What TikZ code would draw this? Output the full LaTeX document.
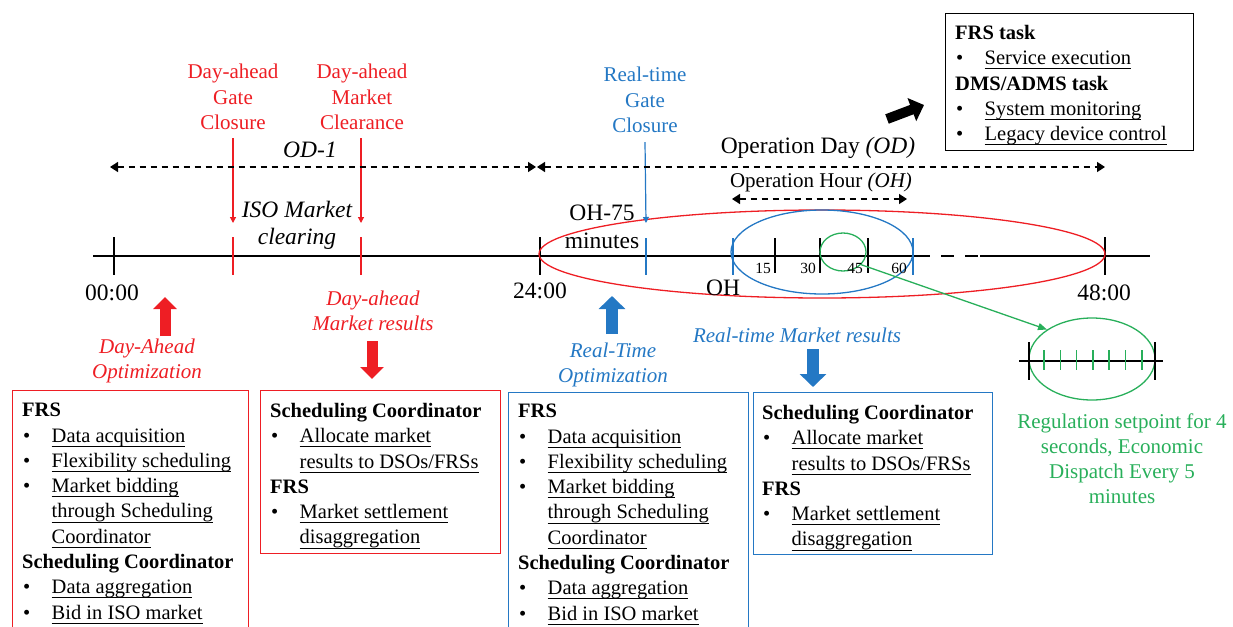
\documentclass[tikz,border=0pt]{standalone}
\usepackage{fontspec}
\setmainfont{Liberation Serif}
\usetikzlibrary{arrows.meta,positioning,shapes.geometric}
\definecolor{dared}{RGB}{238,30,36}
\definecolor{rtblue}{RGB}{36,120,196}
\definecolor{regreen}{RGB}{40,175,90}

\newcommand{\uln}[1]{\setbox0\hbox{#1}\rlap{\rule[-4.5pt]{\wd0}{0.9pt}}\box0}
\newcommand{\bitem}[1]{\makebox[29.5pt][l]{\hspace{1pt}\textbullet}\uln{#1}}
\newcommand{\bcont}[1]{\hspace*{29.5pt}\uln{#1}}

\tikzset{
  lbl/.style={font=\fontsize{21}{25.5}\selectfont, align=center, inner sep=0},
  tlbl/.style={font=\fontsize{23.5}{27.5}\selectfont, align=center, inner sep=0},
  minlbl/.style={font=\fontsize{15.5}{18}\selectfont, inner sep=0, anchor=base},
  boxtxt/.style={font=\fontsize{20.5}{25.3}\selectfont, align=left, inner sep=0},
  taskframe/.style={line width=1.3pt, inner sep=0, anchor=north west},
  ring/.style={ellipse, line width=1.3pt, inner sep=0},
  tick/.style={line width=2.2pt},
  ctick/.style={line width=1.6pt},
  timedash/.style={line width=1.5pt, dash pattern=on 6pt off 5pt},
  thinarrow/.style={line width=1.2pt, -{Triangle[length=6pt,width=6pt]}},
  fatarrow/.style={line width=11pt, -{Triangle[length=12pt,width=23pt]}}
}

\begin{document}
\begin{tikzpicture}[x=1pt,y=-1pt]
\useasboundingbox (0,0) rectangle (1233,626);

\coordinate (tl0) at (93,256);
\coordinate (tl1) at (917,256);
\coordinate (tl2) at (980,256);
\coordinate (tl3) at (1150,256);

\draw[line width=2pt] (tl0) -- (tl1);
\draw[line width=2pt, dash pattern=on 13pt off 11pt] (tl1) -- (tl2);
\draw[line width=2pt] (tl2) -- (tl3);

\foreach \x in {114,540,1105} \draw[tick] (\x,237) -- (\x,275);
\foreach \x in {775,820,868} \draw[tick] (\x,238) -- (\x,273);
\foreach \x in {233,361} \draw[ctick, dared] (\x,237) -- (\x,275);
\foreach \x in {646,733,913} \draw[ctick, rtblue] (\x,238) -- (\x,275);

\node[ring, draw=dared, minimum width=566, minimum height=88] (odring) at (822,254) {};
\node[ring, draw=rtblue, minimum width=182, minimum height=84] (ohring) at (822,252) {};
\node[ring, draw=regreen, minimum width=46, minimum height=38] (regring) at (843,252) {};

\node[tlbl, anchor=base] (t0) at (112,300) {00:00};
\node[tlbl, anchor=base] (t24) at (540,298) {24:00};
\node[tlbl, anchor=base] (t48) at (1104,300) {48:00};
\node[tlbl, anchor=base] (ohname) at (723,295) {OH};
\node[minlbl] (m15) at (763,273) {15};
\node[minlbl] (m30) at (808,273) {30};
\node[minlbl] (m45) at (855,273) {45};
\node[minlbl] (m60) at (899,273) {60};

% gate closures
\node[lbl, dared, anchor=north] (gcda) at (233,64) {Day-ahead\\Gate\\Closure};
\node[lbl, dared, anchor=north] (mcda) at (362,64) {Day-ahead\\Market\\Clearance};
\node[lbl, rtblue, anchor=north] (gcrt) at (645,67) {Real-time\\Gate\\Closure};
\coordinate (gcdaend) at (233,223);
\coordinate (mcdaend) at (361,223);
\coordinate (gcrtend) at (646,223);
\draw[thinarrow, dared] ([yshift=-8pt]gcda.south) -- (gcdaend);
\draw[thinarrow, dared] ([xshift=-1pt,yshift=-8pt]mcda.south) -- (mcdaend);
\draw[thinarrow, rtblue] ([yshift=-9pt]gcrt.south) -- (gcrtend);

\node[tlbl, font=\fontsize{23.5}{27}\selectfont\itshape, anchor=north] (isoclr) at (297,201) {ISO Market\\clearing};
\node[tlbl, font=\fontsize{23.5}{28}\selectfont, anchor=north] (oh75) at (602,205) {OH-75\\minutes};

% operation day and hour
\coordinate (od1w) at (110,167);
\coordinate (od1e) at (536,167);
\coordinate (odw) at (537,167);
\coordinate (ode) at (1105,167);
\coordinate (ohw) at (732,199);
\coordinate (ohe) at (907,199);
\draw[timedash, {Triangle[length=8pt,width=10pt]}-{Triangle[length=8pt,width=10pt]}] (od1w) -- (od1e);
\draw[timedash, {Triangle[length=8pt,width=10pt]}-{Triangle[length=8pt,width=10pt]}] (odw) -- (ode);
\draw[timedash, {Triangle[length=8pt,width=10pt]}-{Triangle[length=8pt,width=10pt]}] (ohw) -- (ohe);
\node[tlbl, font=\fontsize{23.5}{27}\selectfont\itshape, anchor=base] (od1) at (310,157) {OD-1};
\node[tlbl, anchor=base] (odlbl) at (818,153) {Operation Day \textit{(OD)}};
\node[lbl, anchor=base] (ohlbl) at (821,187) {Operation Hour \textit{(OH)}};

% regulation zoom
\node[ring, draw=regreen, minimum width=126, minimum height=82] (zoomring) at (1092,359) {};
\draw[line width=2pt] (1019,361) -- (1163,361);
\foreach \x in {1029,1155} \draw[tick] (\x,342) -- (\x,380);
\foreach \i in {0,...,6} \draw[ctick, regreen] (1044+16.3*\i,350) -- (1044+16.3*\i,370);
\draw[regreen, line width=1.3pt, -{Triangle[length=9pt,width=7pt]}] (regring.-35) -- (zoomring.north west);
\node[lbl, regreen, font=\fontsize{21}{25}\selectfont, anchor=north] (regtxt) at (1122,414) {Regulation setpoint for 4\\seconds, Economic\\Dispatch Every 5\\minutes};

% optimization arrows
\coordinate (dauptail) at (165,336);
\coordinate (dauptip) at (165,297);
\coordinate (dadntail) at (372,341);
\coordinate (dadntip) at (372,379);
\coordinate (rtuptail) at (612,334);
\coordinate (rtuptip) at (612,296);
\coordinate (rtdntail) at (813,349);
\coordinate (rtdntip) at (813,387);
\draw[fatarrow, dared] (dauptail) -- (dauptip);
\draw[fatarrow, dared] (dadntail) -- (dadntip);
\draw[fatarrow, rtblue, line width=12pt, -{Triangle[length=13pt,width=26pt]}] (rtuptail) -- (rtuptip);
\draw[fatarrow, rtblue, line width=12pt, -{Triangle[length=13pt,width=26pt]}] (rtdntail) -- (rtdntip);
\node[lbl, dared, font=\fontsize{21}{25}\selectfont\itshape, anchor=north] (daopt) at (147,339) {Day-Ahead\\Optimization};
\node[lbl, dared, font=\fontsize{21}{25}\selectfont\itshape, anchor=north] (damr) at (373,291) {Day-ahead\\Market results};
\node[lbl, rtblue, font=\fontsize{21}{25}\selectfont\itshape, anchor=north] (rtopt) at (613,343) {Real-Time\\Optimization};
\node[lbl, rtblue, font=\fontsize{21}{25}\selectfont\itshape, anchor=base] (rtmr) at (797,342) {Real-time Market results};

% task boxes
\node[taskframe, draw=dared, minimum width=236, minimum height=260] (dabox) at (12,390) {};
\node[boxtxt, below right=13pt and 10pt of dabox.north west] (datxt) {\textbf{FRS}\\
\bitem{Data acquisition}\\
\bitem{Flexibility scheduling}\\
\bitem{Market bidding}\\
\bcont{through Scheduling}\\
\bcont{Coordinator}\\
\textbf{Scheduling Coordinator}\\
\bitem{Data aggregation}\\
\bitem{Bid in ISO market}};

\node[taskframe, draw=dared, minimum width=240, minimum height=163] (damrbox) at (260,390) {};
\node[boxtxt, below right=13pt and 10pt of damrbox.north west] (damrtxt) {\textbf{Scheduling Coordinator}\\
\bitem{Allocate market}\\
\bcont{results to DSOs/FRSs}\\
\textbf{FRS}\\
\bitem{Market settlement}\\
\bcont{disaggregation}};

\node[taskframe, draw=rtblue, minimum width=240, minimum height=260] (rtbox) at (508,392) {};
\node[boxtxt, below right=12pt and 10pt of rtbox.north west] (rttxt) {\textbf{FRS}\\
\bitem{Data acquisition}\\
\bitem{Flexibility scheduling}\\
\bitem{Market bidding}\\
\bcont{through Scheduling}\\
\bcont{Coordinator}\\
\textbf{Scheduling Coordinator}\\
\bitem{Data aggregation}\\
\bitem{Bid in ISO market}};

\node[taskframe, draw=rtblue, minimum width=239, minimum height=162] (rtmrbox) at (753,392) {};
\node[boxtxt, below right=13pt and 9pt of rtmrbox.north west] (rtmrtxt) {\textbf{Scheduling Coordinator}\\
\bitem{Allocate market}\\
\bcont{results to DSOs/FRSs}\\
\textbf{FRS}\\
\bitem{Market settlement}\\
\bcont{disaggregation}};

% operation day tasks
\node[taskframe, draw=black, minimum width=248, minimum height=137] (odbox) at (945,13) {};
\node[boxtxt, below right=12pt and 10pt of odbox.north west] (odtxt) {\textbf{FRS task}\\
\bitem{Service execution}\\
\textbf{DMS/ADMS task}\\
\bitem{System monitoring}\\
\bitem{Legacy device control}};
\coordinate (odarrtail) at (887,119);
\coordinate (odarrtip) at (924,105);
\draw[line width=10pt, -{Triangle[length=13pt,width=24pt]}] (odarrtail) -- (odarrtip);

\end{tikzpicture}
\end{document}
